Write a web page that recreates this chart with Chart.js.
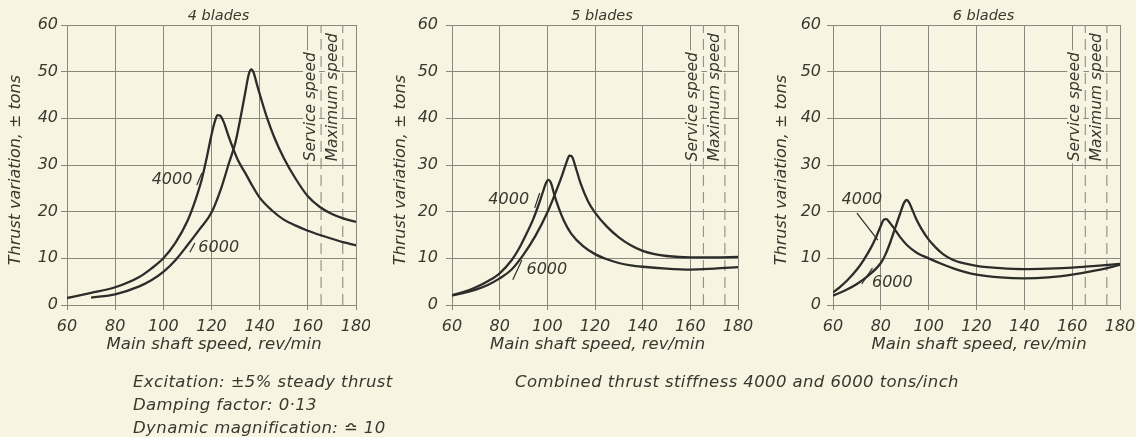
<!DOCTYPE html>
<html><head><meta charset="utf-8">
<script src="https://cdn.jsdelivr.net/npm/chart.js@4.4.1/dist/chart.umd.min.js"></script>
<style>
html,body{margin:0;padding:0;background:#f7f5e2;}
#wrap{position:relative;width:1136px;height:437px;overflow:hidden;background:#f7f5e2;}
canvas{position:absolute;top:0;}
.note{position:absolute;font-family:"DejaVu Sans",sans-serif;font-style:italic;font-size:16.5px;letter-spacing:0.4px;color:#38382f;white-space:nowrap;line-height:18px;}
</style></head>
<body><div id="wrap">
<canvas id="c1" width="370" height="437" style="left:0px"></canvas>
<canvas id="c2" width="370" height="437" style="left:385px"></canvas>
<canvas id="c3" width="370" height="437" style="left:766px"></canvas>
<div class="note" style="left:133px;top:373px">Excitation: ±5% steady thrust</div>
<div class="note" style="left:133px;top:396px">Damping factor: 0·13</div>
<div class="note" style="left:133px;top:419px">Dynamic magnification: ≏ 10</div>
<div class="note" style="left:515px;top:373px">Combined thrust stiffness 4000 and 6000 tons/inch</div>
</div>
<script>
// ---------- DATA ----------
const panelTitles = ["4 blades", "5 blades", "6 blades"];
const seriesNames = ["4000", "6000"];
const xTicks = [60, 80, 100, 120, 140, 160, 180];
const yTicks = [0, 10, 20, 30, 40, 50, 60];
const serviceSpeed = 165.5;
const maximumSpeed = 174.5;
const speedLabels = ["Service speed", "Maximum speed"];

// 4 blades
const p1_4000_rpm  = [60,70,80,90,95,100,105,110,113,116,118,120,121.5,122.5,123.5,125,127,129,131,134,137,140,145,150,155,160,165,170,175,180];
const p1_4000_tons = [1.5,2.6,3.8,6,7.8,10,13.3,18,22,27,31.5,36.5,39.5,40.7,40.6,39.3,36.3,33.5,31,28.3,25.5,23,20.3,18.3,17,15.9,15,14.2,13.4,12.8];
const p1_6000_rpm  = [70,80,90,95,100,105,110,115,120,124,127,130,132,134,135.5,136.5,137.5,139,141,143,146,150,155,160,165,170,175,180];
const p1_6000_tons = [1.6,2.3,4.0,5.3,7.1,9.6,12.8,16.2,19.8,25,30,35,40,45.5,49.5,50.5,49.8,47,43.5,40.2,36,31.5,27,23.3,21,19.5,18.5,17.8];

// 5 blades
const p2_4000_rpm  = [60,65,70,75,80,85,88,91,94,96,98,99.5,100.5,101.5,103,105,107,110,115,120,125,130,135,140,150,160,170,180];
const p2_4000_tons = [2.1,2.8,3.8,5.1,6.8,9.6,12,15,18.3,21,24,26.2,26.8,26.2,23.5,20.5,18,15.3,12.6,10.9,9.8,9,8.5,8.2,7.8,7.6,7.8,8.1];
const p2_6000_rpm  = [60,65,70,75,80,85,90,95,100,103,106,108,109.3,110.3,112,114,117,120,125,130,135,140,145,150,160,170,180];
const p2_6000_tons = [2,2.6,3.3,4.3,5.7,7.6,10.8,14.8,19.8,23.5,27.5,30.5,32,31.8,29.3,26,22.3,19.8,16.8,14.5,12.8,11.6,10.9,10.5,10.2,10.2,10.3];

// 6 blades
const p3_4000_rpm  = [60,63,66,70,73,76,78,80,81.3,82.3,83.5,85,88,91,95,100,105,110,115,120,130,140,150,160,170,180];
const p3_4000_tons = [2.7,3.9,5.3,7.6,9.8,12.4,14.5,17,18.3,18.4,17.8,16.8,14.6,12.8,11.2,10,8.9,7.9,7.1,6.5,5.9,5.7,5.9,6.5,7.4,8.6];
const p3_6000_rpm  = [60,65,70,75,80,82,84,86,88,89.8,90.8,91.8,93,95,97,100,103,106,110,115,120,130,140,150,160,170,180];
const p3_6000_tons = [2,3.1,4.5,6.4,9,10.9,13.5,16.5,19.5,22,22.5,22,20.6,18.2,16.3,14,12.3,10.9,9.7,8.9,8.4,7.9,7.7,7.8,8,8.4,8.8];

// curve label anchors (data units) and leader strokes
const p1_labelPos = [[103.6, 26.8], [123.0, 12.2]];
const p1_leaders  = [[[113.9, 25.7], [116.0, 28.3]], [[111.0, 11.3], [113.1, 13.3]]];
const p2_labelPos = [[83.8, 22.5], [99.8, 7.5]];
const p2_leaders  = [[[94.7, 20.8], [96.8, 24.0]], [[85.5, 5.4], [89.3, 9.6]]];
const p3_labelPos = [[72.1, 22.5], [84.8, 4.8]];
const p3_leaders  = [[[70.0, 19.7], [78.75, 13.9]], [[72.0, 4.5], [76.5, 7.9]]];

// ---------- STYLE / LAYOUT ----------
const BG = '#f7f5e2';
const INK = '#2c2c2a';
const TXT = '#38382f';
const GRID = '#88887e';
const FONT = 'DejaVu Sans';

function pts(xs, ys){ return xs.map((x,i)=>({x:x, y:ys[i]})); }

const panels = [
  {id:'c1', title:panelTitles[0], s:[[p1_4000_rpm,p1_4000_tons],[p1_6000_rpm,p1_6000_tons]], lab:p1_labelPos, lead:p1_leaders, padRight:14, yTickPad:3},
  {id:'c2', title:panelTitles[1], s:[[p2_4000_rpm,p2_4000_tons],[p2_6000_rpm,p2_6000_tons]], lab:p2_labelPos, lead:p2_leaders, padRight:17, yTickPad:8},
  {id:'c3', title:panelTitles[2], s:[[p3_4000_rpm,p3_4000_tons],[p3_6000_rpm,p3_6000_tons]], lab:p3_labelPos, lead:p3_leaders, padRight:16, yTickPad:6},
];

const decor = {
  id:'decor',
  afterDatasetsDraw(chart, args, o){
    const ctx = chart.ctx, xs = chart.scales.x, ys = chart.scales.y, ca = chart.chartArea;
    ctx.save();
    // title
    ctx.fillStyle = TXT;
    ctx.font = 'italic 14.5px "' + FONT + '"';
    ctx.textAlign = 'center'; ctx.textBaseline = 'middle';
    ctx.fillText(o.title, (ca.left+ca.right)/2 + 7, 16);
    // speed labels (rotated)
    ctx.font = 'italic 15.5px "' + FONT + '"';
    [serviceSpeed, maximumSpeed].forEach((sp, i) => {
      const px = xs.getPixelForValue(sp) - 10;
      const py = ys.getPixelForValue(30.8);
      ctx.save();
      ctx.translate(px, py);
      ctx.rotate(-Math.PI/2);
      const w = ctx.measureText(speedLabels[i]).width;
      ctx.fillStyle = BG;
      ctx.fillRect(-2, -8, w+4, 16);
      ctx.fillStyle = TXT;
      ctx.textAlign = 'left';
      ctx.fillText(speedLabels[i], 0, 0);
      ctx.restore();
    });
    // curve labels
    ctx.font = 'italic 16px "' + FONT + '"';
    o.lab.forEach((p, i) => {
      ctx.fillStyle = TXT;
      ctx.textAlign = 'center';
      ctx.fillText(seriesNames[i], xs.getPixelForValue(p[0]), ys.getPixelForValue(p[1]));
    });
    ctx.strokeStyle = INK; ctx.lineWidth = 1.2;
    o.lead.forEach(seg => {
      ctx.beginPath();
      ctx.moveTo(xs.getPixelForValue(seg[0][0]), ys.getPixelForValue(seg[0][1]));
      ctx.lineTo(xs.getPixelForValue(seg[1][0]), ys.getPixelForValue(seg[1][1]));
      ctx.stroke();
    });
    ctx.restore();
  }
};

panels.forEach(P => {
  const datasets = P.s.map(s => ({
    data: pts(s[0], s[1]), borderColor: INK, borderWidth: 2.3, pointRadius: 0,
    cubicInterpolationMode: 'monotone', fill: false
  }));
  [serviceSpeed, maximumSpeed].forEach(sp => {
    datasets.push({data: pts([sp, sp], [yTicks[0], yTicks[yTicks.length-1]]), borderColor: '#95958c',
      borderWidth: 1.2, borderDash: [11, 6], pointRadius: 0, fill: false});
  });
  new Chart(document.getElementById(P.id), {
    type: 'line',
    data: { datasets },
    plugins: [decor],
    options: {
      responsive: false, animation: false, devicePixelRatio: 1,
      layout: { padding: { left: 0, right: P.padRight, top: 25, bottom: 80 } },
      plugins: { legend: {display:false}, tooltip: {enabled:false}, title:{display:false}, decor: {title: P.title, lab: P.lab, lead: P.lead} },
      scales: {
        x: {
          type: 'linear', min: xTicks[0], max: xTicks[xTicks.length-1],
          afterBuildTicks: s => { s.ticks = xTicks.map(v => ({value: v})); },
          afterFit: s => { s.height = 52; s.paddingLeft = 0; s.paddingRight = 0; },
          grid: { color: GRID, lineWidth: 1, tickLength: 5, drawTicks: true },
          border: { color: GRID, width: 1 },
          ticks: { color: TXT, font: {family: FONT, size: 16, style: 'italic'}, padding: 7, maxRotation: 0, autoSkip: false },
          title: { display: true, text: '\u00a0Main shaft speed, rev/min', color: TXT, font: {family: FONT, size: 16.5, style: 'italic'}, padding: {top: 0, bottom: 2} }
        },
        y: {
          type: 'linear', min: yTicks[0], max: yTicks[yTicks.length-1],
          afterBuildTicks: s => { s.ticks = yTicks.map(v => ({value: v})); },
          afterFit: s => { s.width = 67; s.paddingTop = 0; s.paddingBottom = 0; },
          grid: { color: GRID, lineWidth: 1, tickLength: 6 },
          border: { color: GRID, width: 1 },
          ticks: { color: TXT, font: {family: FONT, size: 16, style: 'italic'}, padding: P.yTickPad },
          title: { display: true, text: 'Thrust variation, ± tons\u00a0\u00a0', color: TXT, font: {family: FONT, size: 16, style: 'italic'}, padding: {top: 6, bottom: 0} }
        }
      }
    }
  });
});
</script>
</body></html>
